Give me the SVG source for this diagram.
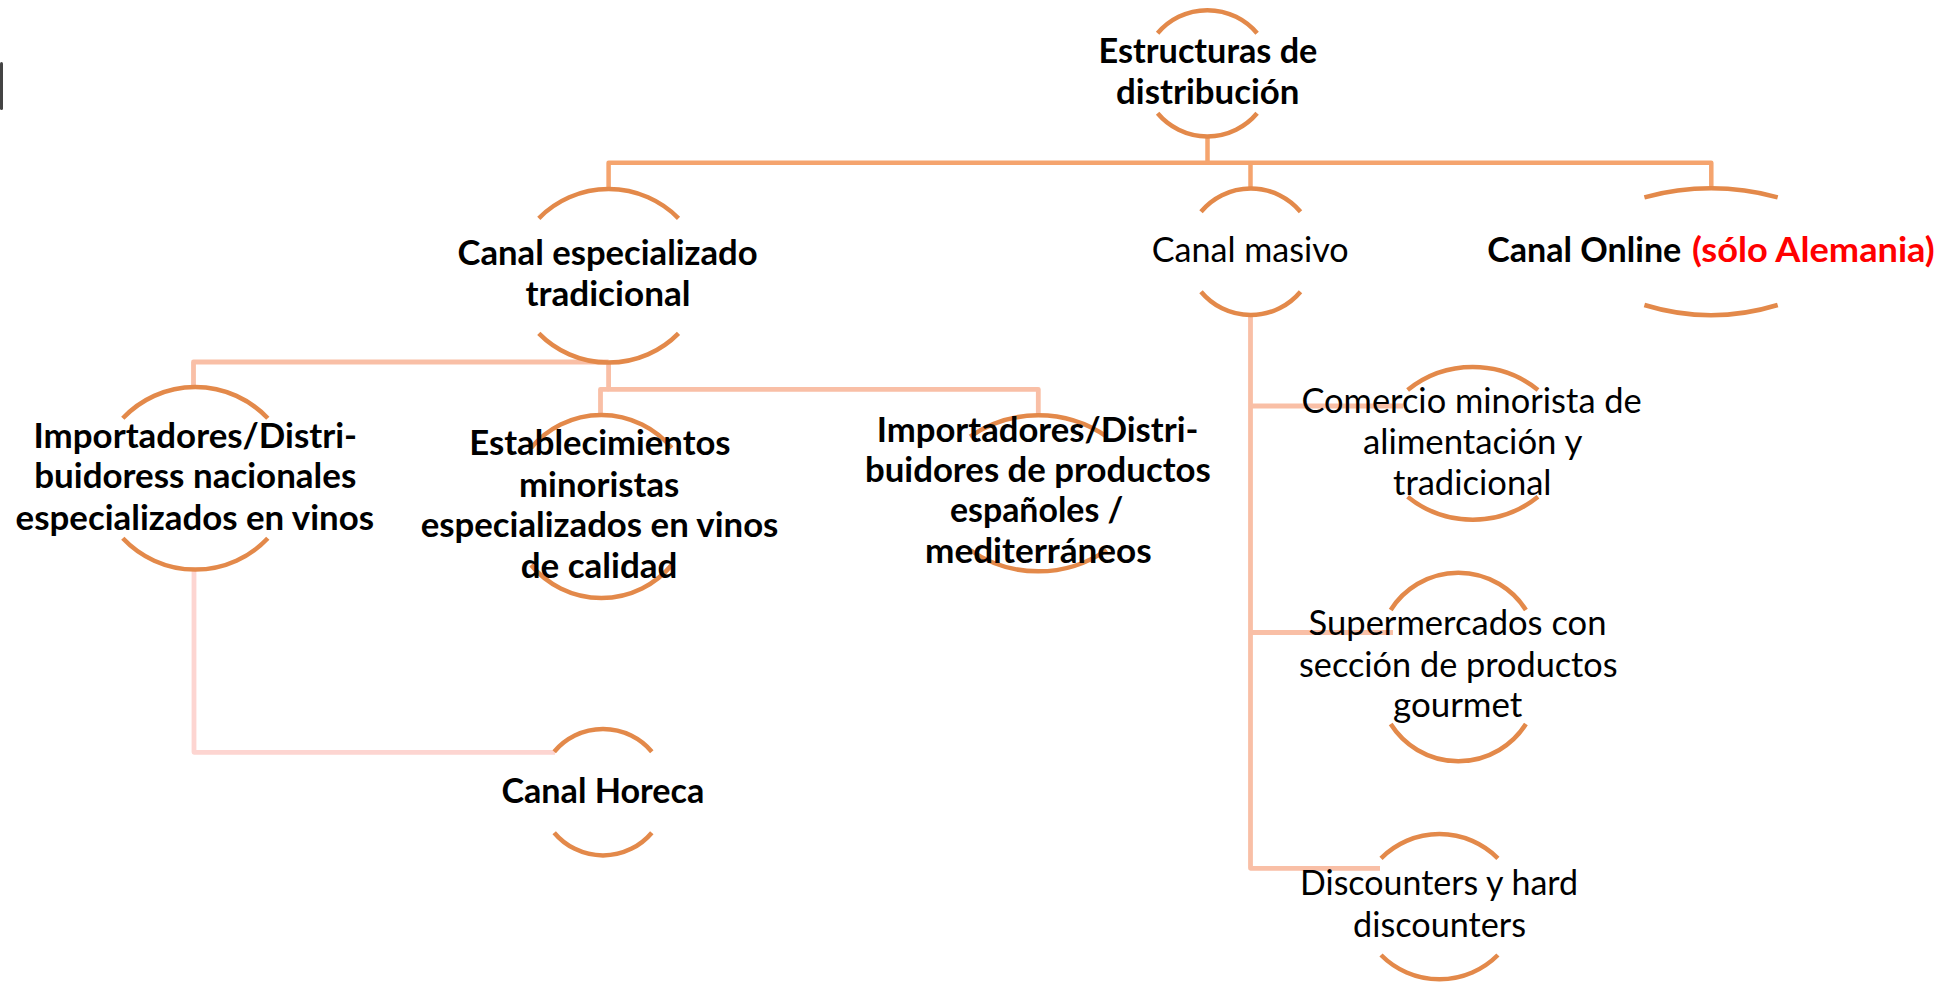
<svg xmlns="http://www.w3.org/2000/svg" width="1957" height="983" viewBox="0 0 1957 983">
<style>
.arc{fill:none;stroke:#E3894A;stroke-width:4.5}
.c1{fill:none;stroke:#F5A46E;stroke-width:4.5;stroke-linejoin:round}
.c2{fill:none;stroke:#F9BFA6;stroke-width:4.8;stroke-linejoin:round}
.c3{fill:none;stroke:#FDD5D1;stroke-width:4.8;stroke-linejoin:round}
text{font-family:Lato,"Liberation Sans",Arial,sans-serif;font-size:34px;fill:#000}
.b{font-weight:700}
.n{font-weight:400}
.red{fill:#FF0000}
</style>
<rect width="1957" height="983" fill="#FFFFFF"/>
<rect x="0" y="62" width="3" height="48" rx="1.5" fill="#444444"/>

<g id="connectors">
  <path class="c1" d="M1207.5,135 V162.7"/>
  <path class="c1" d="M608.6,189 V162.7 H1711.3 V189"/>
  <path class="c1" d="M1250.5,162.7 V188.5"/>
  <path class="c2" d="M608.6,362 H193.5 V387"/>
  <path class="c2" d="M608.6,362 V389.3 H1038.3 V415"/>
  <path class="c2" d="M608.6,389.3 H600.5 V415"/>
  <path class="c2" d="M1250.5,315 V868.3 H1380"/>
  <path class="c2" d="M1250.5,406 H1403"/>
  <path class="c2" d="M1250.5,632.5 H1393"/>
  <path class="c3" d="M194,569.5 V752.3 H555"/>
</g>

<g id="n-estructuras">
  <path class="arc" d="M1157.6,33.3 A65,65 0 0 1 1257.1,33.3"/>
  <path class="arc" d="M1157.6,113.3 A65,65 0 0 0 1257.1,113.3"/>
  <text class="b" x="1098.6" y="63.3" textLength="218.8" lengthAdjust="spacingAndGlyphs">Estructuras de</text>
  <text class="b" x="1116" y="104" textLength="183.5" lengthAdjust="spacingAndGlyphs">distribución</text>
</g>

<g id="n-especializado">
  <path class="arc" d="M538.8,218.3 A98,98 0 0 1 678.5,218.3"/>
  <path class="arc" d="M538.8,333.3 A98,98 0 0 0 678.5,333.3"/>
  <text class="b" x="457.6" y="265" textLength="300" lengthAdjust="spacingAndGlyphs">Canal especializado</text>
  <text class="b" x="525.5" y="306" textLength="165" lengthAdjust="spacingAndGlyphs">tradicional</text>
</g>

<g id="n-masivo">
  <path class="arc" d="M1201,211.7 A64.8,64.8 0 0 1 1300.5,211.7"/>
  <path class="arc" d="M1201,291.7 A64.8,64.8 0 0 0 1300.5,291.7"/>
  <text class="n" x="1151.8" y="261.7" textLength="196.8" lengthAdjust="spacingAndGlyphs">Canal masivo</text>
</g>

<g id="n-online">
  <path class="arc" d="M1644.4,197.3 A257,257 0 0 1 1777.7,197.3"/>
  <path class="arc" d="M1644.4,305 A227,227 0 0 0 1777.7,305"/>
  <text class="b" x="1487.3" y="261.7" textLength="194" lengthAdjust="spacingAndGlyphs">Canal Online</text>
  <text class="b red" x="1692" y="261.7" textLength="242.8" lengthAdjust="spacingAndGlyphs">(sólo Alemania)</text>
</g>

<g id="n-importadores-nacionales">
  <path class="arc" d="M122.8,418.3 A99.6,99.6 0 0 1 267.8,418.3"/>
  <path class="arc" d="M122.8,538.3 A99.6,99.6 0 0 0 267.8,538.3"/>
  <text class="b" x="33.5" y="448.3" textLength="323.6" lengthAdjust="spacingAndGlyphs">Importadores/Distri-</text>
  <text class="b" x="34.3" y="488.3" textLength="322" lengthAdjust="spacingAndGlyphs">buidoress nacionales</text>
  <text class="b" x="15.6" y="530" textLength="358.5" lengthAdjust="spacingAndGlyphs">especializados en vinos</text>
</g>

<g id="n-establecimientos">
  <path class="arc" d="M531,448 A91.5,91.5 0 0 1 671.7,448"/>
  <path class="arc" d="M531,565 A91.5,91.5 0 0 0 671.7,565"/>
  <text class="b" x="469.3" y="455" textLength="261.3" lengthAdjust="spacingAndGlyphs">Establecimientos</text>
  <text class="b" x="519" y="496.7" textLength="160.3" lengthAdjust="spacingAndGlyphs">minoristas</text>
  <text class="b" x="420.7" y="536.7" textLength="357.7" lengthAdjust="spacingAndGlyphs">especializados en vinos</text>
  <text class="b" x="520.7" y="578.3" textLength="156.7" lengthAdjust="spacingAndGlyphs">de calidad</text>
</g>

<g id="n-importadores-espanoles">
  <path class="arc" d="M970,436.7 A120,120 0 0 1 1106.7,436.7"/>
  <path class="arc" d="M970,550 A120,120 0 0 0 1106.7,550"/>
  <text class="b" x="876.7" y="441.7" textLength="321.7" lengthAdjust="spacingAndGlyphs">Importadores/Distri-</text>
  <text class="b" x="865" y="481.7" textLength="345.7" lengthAdjust="spacingAndGlyphs">buidores de productos</text>
  <text class="b" x="950" y="521.7" textLength="173.3" lengthAdjust="spacingAndGlyphs">españoles /</text>
  <text class="b" x="925" y="563.3" textLength="226.7" lengthAdjust="spacingAndGlyphs">mediterráneos</text>
</g>

<g id="n-horeca">
  <path class="arc" d="M554.2,751.7 A63.8,63.8 0 0 1 651.8,751.7"/>
  <path class="arc" d="M554.2,832.7 A63.8,63.8 0 0 0 651.8,832.7"/>
  <text class="b" x="501.4" y="803.3" textLength="203" lengthAdjust="spacingAndGlyphs">Canal Horeca</text>
</g>

<g id="n-comercio">
  <path class="arc" d="M1407.6,390 A104,104 0 0 1 1538,390"/>
  <path class="arc" d="M1407.6,496.7 A104,104 0 0 0 1538,496.7"/>
  <text class="n" x="1301.4" y="413.3" textLength="340.4" lengthAdjust="spacingAndGlyphs">Comercio minorista de</text>
  <text class="n" x="1363" y="454" textLength="219.4" lengthAdjust="spacingAndGlyphs">alimentación y</text>
  <text class="n" x="1393" y="495" textLength="158.5" lengthAdjust="spacingAndGlyphs">tradicional</text>
</g>

<g id="n-supermercados">
  <path class="arc" d="M1390.7,610 A80,80 0 0 1 1525.9,610"/>
  <path class="arc" d="M1390.7,724 A80,80 0 0 0 1525.9,724"/>
  <text class="n" x="1308.6" y="635" textLength="297.9" lengthAdjust="spacingAndGlyphs">Supermercados con</text>
  <text class="n" x="1299" y="676.7" textLength="318.6" lengthAdjust="spacingAndGlyphs">sección de productos</text>
  <text class="n" x="1393" y="716.7" textLength="129.4" lengthAdjust="spacingAndGlyphs">gourmet</text>
</g>

<g id="n-discounters">
  <path class="arc" d="M1381,858.3 A82.5,82.5 0 0 1 1497.9,858.3"/>
  <path class="arc" d="M1381,955 A82.5,82.5 0 0 0 1497.9,955"/>
  <text class="n" x="1300" y="895" textLength="278" lengthAdjust="spacingAndGlyphs">Discounters y hard</text>
  <text class="n" x="1353" y="936.7" textLength="173" lengthAdjust="spacingAndGlyphs">discounters</text>
</g>
</svg>
